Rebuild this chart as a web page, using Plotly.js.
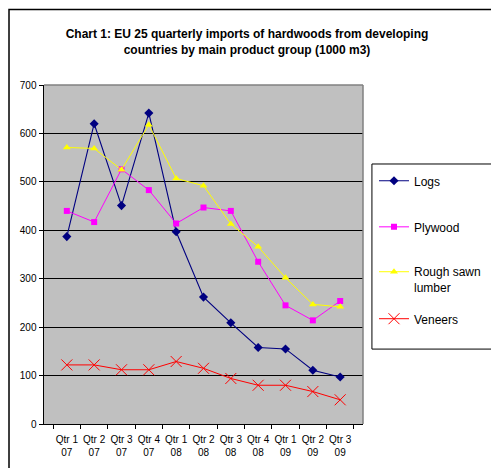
<!DOCTYPE html>
<html>
<head>
<meta charset="utf-8">
<script src="https://cdn.plot.ly/plotly-3.0.1.min.js"></script>
<style>html,body{margin:0;padding:0;background:#fff;}#chart{width:491px;height:468px;}</style>
</head>
<body>
<div id="chart"></div>
<script>
const categories = ["Qtr 1<br>07","Qtr 2<br>07","Qtr 3<br>07","Qtr 4<br>07","Qtr 1<br>08","Qtr 2<br>08","Qtr 3<br>08","Qtr 4<br>08","Qtr 1<br>09","Qtr 2<br>09","Qtr 3<br>09"];
const logs = [387, 620, 451, 642, 397, 262, 209, 158, 155, 111, 97];
const plywood = [440, 417, 526, 483, 414, 447, 440, 335, 245, 214, 254];
const roughSawn = [571, 569, 525, 618, 507, 492, 413, 366, 302, 247, 242];
const veneers = [122, 122, 112, 112, 129, 115, 94, 80, 80, 67, 50];
const seriesNames = ["Logs", "Plywood", "Rough sawn<br>lumber", "Veneers"];

const font = "Liberation Sans, Arial, sans-serif";
const traces = [
  {x: categories, y: logs, name: seriesNames[0], legend: "legend", mode: "lines+markers",
   line: {color: "#000080", width: 1.1}, marker: {symbol: "diamond", size: 7, color: "#000080"}},
  {x: categories, y: plywood, name: seriesNames[1], legend: "legend2", mode: "lines+markers",
   line: {color: "#FF00FF", width: 1}, marker: {symbol: "square", size: 6, color: "#FF00FF"}},
  {x: categories, y: roughSawn, name: seriesNames[2], legend: "legend3", mode: "lines+markers",
   line: {color: "#FFFF00", width: 1}, marker: {symbol: "triangle-up", size: 7, color: "#FFFF00"}},
  {x: categories, y: veneers, name: seriesNames[3], legend: "legend4", mode: "lines+markers",
   line: {color: "#FF0000", width: 1}, marker: {symbol: "x-thin-open", size: 11, color: "#FF0000", line: {color: "#FF0000", width: 1}}}
];

function leg(y) {
  return {x: 374/491, xref: "container", xanchor: "left", y: y, yanchor: "middle", valign: "top",
    bgcolor: "rgba(0,0,0,0)", borderwidth: 0, font: {family: font, size: 12, color: "#000"}, itemwidth: 30};
}

const layout = {
  width: 491, height: 468,
  margin: {l: 44, r: 128, t: 85, b: 44, autoexpand: false},
  paper_bgcolor: "#ffffff",
  plot_bgcolor: "#C0C0C0",
  font: {family: font, size: 10, color: "#000"},
  title: {
    text: "<b>Chart 1: EU 25 quarterly imports of hardwoods from developing<br>countries by main product group (1000 m3)</b>",
    font: {family: font, size: 12, color: "#000"},
    x: 247/491, xref: "container", xanchor: "center",
    yref: "container", y: 1 - 38/468, yanchor: "top"
  },
  xaxis: {
    type: "category", tickson: "boundaries", ticks: "outside", ticklen: 4, tickcolor: "#000",
    tickangle: 0, ticklabelstandoff: 6,
    showline: true, linecolor: "#000", linewidth: 1, showgrid: false, zeroline: false,
    tickfont: {family: font, size: 10}, fixedrange: true
  },
  yaxis: {
    range: [0, 700], dtick: 100, ticks: "outside", ticklen: 4, tickcolor: "#000",
    showline: true, linecolor: "#000", linewidth: 1.5, showgrid: true, gridcolor: "#000", gridwidth: 1,
    zeroline: false, tickfont: {family: font, size: 10}, fixedrange: true
  },
  showlegend: true,
  legend: leg(0.717),
  legend2: leg(0.581),
  legend3: leg(0.425),
  legend4: leg(0.310),
  shapes: [
    {type: "line", xref: "paper", yref: "paper", x0: 0, x1: 1, y0: 1, y1: 1, line: {color: "#808080", width: 1.5}},
    {type: "line", xref: "paper", yref: "paper", x0: 1, x1: 1, y0: 0, y1: 1, line: {color: "#808080", width: 1.5}},
    {type: "rect", xref: "paper", yref: "paper", x0: 1.028, x1: 1.6, y0: 0.221, y1: 0.767, line: {color: "#000", width: 1}},
    {type: "rect", xref: "paper", yref: "paper", x0: -0.1097, x1: 1.6, y0: -0.3, y1: 1.2227, line: {color: "#000", width: 1.5}}
  ]
};
Plotly.newPlot("chart", traces, layout, {displayModeBar: false, staticPlot: true});
</script>
</body>
</html>
